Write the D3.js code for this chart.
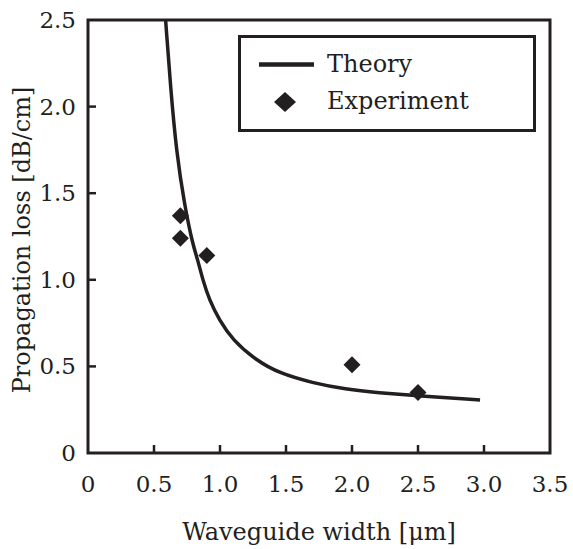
<!DOCTYPE html>
<html><head><meta charset="utf-8">
<script src="https://cdn.jsdelivr.net/npm/d3@7"></script>
<style>body{margin:0;background:#fff}svg{display:block}</style>
</head><body><svg id="c" width="573" height="549"></svg>
<script>
const xTicks = [0, 0.5, 1.0, 1.5, 2.0, 2.5, 3.0, 3.5];
const xTickLabels = ["0", "0.5", "1.0", "1.5", "2.0", "2.5", "3.0", "3.5"];
const yTicks = [0, 0.5, 1.0, 1.5, 2.0, 2.5];
const yTickLabels = ["0", "0.5", "1.0", "1.5", "2.0", "2.5"];
const theoryX = [0.588, 0.624, 0.669, 0.731, 0.794, 0.832, 0.870, 0.92, 0.995, 1.096, 1.272, 1.45, 1.7, 1.95, 2.2, 2.5, 2.97];
const theoryY = [2.5, 2.125, 1.741, 1.432, 1.202, 1.114, 0.998, 0.883, 0.767, 0.652, 0.536, 0.46, 0.405, 0.368, 0.348, 0.331, 0.306];
const expX = [0.7, 0.7, 0.9, 2.0, 2.5];
const expY = [1.37, 1.24, 1.14, 0.51, 0.35];
const seriesNames = ["Theory", "Experiment"];
const xTitle = "Waveguide width [μm]";
const yTitle = "Propagation loss [dB/cm]";

const svg = d3.select("#c");
const L = 88, R = 550, T = 20, B = 453;
const x = d3.scaleLinear().domain([0, 3.5]).range([L, R]);
const y = d3.scaleLinear().domain([0, 2.5]).range([B, T]);
const font = "'DejaVu Serif', serif";
const col = "#231f20";

// frame
svg.append("rect").attr("x", L).attr("y", T).attr("width", R - L).attr("height", B - T)
  .attr("fill", "none").attr("stroke", col).attr("stroke-width", 3);

// ticks (inward)
svg.append("g").selectAll("line").data(xTicks.slice(1, -1)).join("line")
  .attr("x1", d => x(d)).attr("x2", d => x(d)).attr("y1", B).attr("y2", B - 8)
  .attr("stroke", col).attr("stroke-width", 2.5);
svg.append("g").selectAll("line").data(yTicks.slice(1, -1)).join("line")
  .attr("x1", L).attr("x2", L + 8).attr("y1", d => y(d)).attr("y2", d => y(d))
  .attr("stroke", col).attr("stroke-width", 2.5);

svg.append("g").selectAll("text").data(xTicks).join("text")
  .attr("x", d => x(d)).attr("y", 492).attr("text-anchor", "middle")
  .attr("font-family", font).attr("font-size", 23).attr("fill", col)
  .text((d, i) => xTickLabels[i]);
svg.append("g").selectAll("text").data(yTicks).join("text")
  .attr("x", 76).attr("y", d => y(d) + 8).attr("text-anchor", "end")
  .attr("font-family", font).attr("font-size", 23).attr("fill", col)
  .text((d, i) => yTickLabels[i]);

svg.append("text").attr("x", 319).attr("y", 540).attr("text-anchor", "middle")
  .attr("font-family", font).attr("font-size", 24).attr("fill", col).text(xTitle);
svg.append("text").attr("transform", `translate(30,240) rotate(-90)`)
  .attr("text-anchor", "middle")
  .attr("font-family", font).attr("font-size", 24).attr("fill", col).text(yTitle);

// theory curve
const pts = theoryX.map((v, i) => [v, theoryY[i]]);
svg.append("path").datum(pts)
  .attr("d", d3.line().x(d => x(d[0])).y(d => y(d[1])).curve(d3.curveBasis))
  .attr("fill", "none").attr("stroke", col).attr("stroke-width", 3.5);

// experiment diamonds
const diamond = (cx, cy, hw, hh) => `M${cx},${cy - hh}L${cx + hw},${cy}L${cx},${cy + hh}L${cx - hw},${cy}Z`;
svg.append("g").selectAll("path").data(expX.map((v, i) => [v, expY[i]])).join("path")
  .attr("d", d => diamond(x(d[0]), y(d[1]), 8.5, 8.5)).attr("fill", col);

// legend
svg.append("rect").attr("x", 239.5).attr("y", 36.5).attr("width", 295).attr("height", 94)
  .attr("fill", "#fff").attr("stroke", col).attr("stroke-width", 3);
svg.append("line").attr("x1", 259).attr("x2", 314).attr("y1", 64.5).attr("y2", 64.5)
  .attr("stroke", col).attr("stroke-width", 4.5);
svg.append("path").attr("d", diamond(285, 102, 11, 10)).attr("fill", col);
svg.append("g").selectAll("text").data(seriesNames).join("text")
  .attr("x", 327).attr("y", (d, i) => 72 + i * 37)
  .attr("font-family", font).attr("font-size", 24).attr("fill", col).text(d => d);
</script></body></html>
